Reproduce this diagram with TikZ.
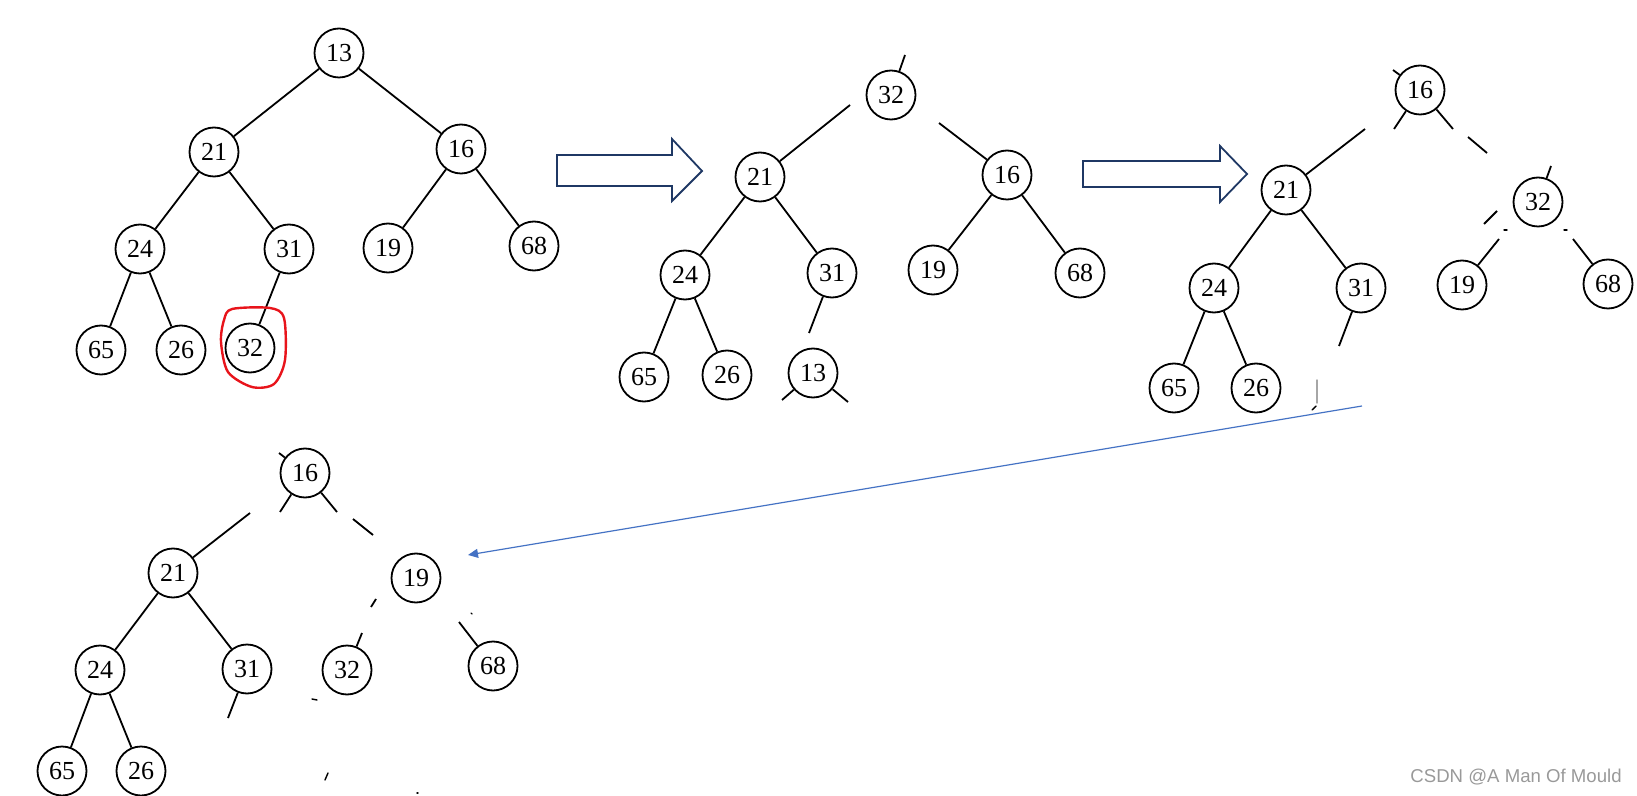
\documentclass[tikz,border=0pt]{standalone}
\usepackage{fontspec}
\setmainfont{Liberation Serif}
\newfontfamily\markfont{Liberation Sans}
\usetikzlibrary{arrows.meta}

\definecolor{navy}{HTML}{1F3864}
\definecolor{linkblue}{HTML}{4472C4}
\definecolor{penred}{HTML}{E8141B}

\begin{document}
\begin{tikzpicture}[x=0.5pt,y=-0.5pt,
  hnode/.style={circle,draw,line width=0.9pt,minimum size=24.5pt,inner sep=0pt,
    font=\fontsize{13}{13}\selectfont},
  link/.style={line width=0.9pt},
  speck/.style={line width=0.7pt,line cap=round},
  bigarrow/.style={draw=navy,line width=0.9pt,fill=white,line join=miter}]
\useasboundingbox (0,0) rectangle (1637,796);

% heap before
\node[hnode] (a13) at (339,53) {13};
\node[hnode] (a21) at (214,152) {21};
\node[hnode] (a16) at (461,149) {16};
\node[hnode] (a24) at (140,249) {24};
\node[hnode] (a31) at (289,249) {31};
\node[hnode] (a19) at (388,248) {19};
\node[hnode] (a68) at (534,246) {68};
\node[hnode] (a65) at (101,350) {65};
\node[hnode] (a26) at (181,350) {26};
\node[hnode] (a32) at (250,348) {32};
\foreach \p/\c in {a13/a21,a13/a16,a21/a24,a21/a31,a16/a19,a16/a68,a24/a65,a24/a26,a31/a32}
  \draw[link] (\p) -- (\c);
\draw[penred,line width=1.2pt] plot[smooth cycle] coordinates
  {(232,309) (270,308) (284,318) (285,360) (274,384) (252,387) (228,372) (221,342) (224,320)};

\draw[bigarrow] (557,155) -- (672,155) -- (672,139) -- (702,171) -- (672,201) -- (672,186) -- (557,186) -- cycle;

% 32 moved to the root
\node[hnode] (b32) at (891,95) {32};
\node[hnode] (b21) at (760,177) {21};
\node[hnode] (b16) at (1007,175) {16};
\node[hnode] (b24) at (685,275) {24};
\node[hnode] (b31) at (832,273) {31};
\node[hnode] (b19) at (933,270) {19};
\node[hnode] (b68) at (1080,273) {68};
\node[hnode] (b65) at (644,377) {65};
\node[hnode] (b26) at (727,375) {26};
\node[hnode] (b13) at (813,373) {13};
\foreach \p/\c in {b21/b24,b21/b31,b24/b65,b24/b26,b16/b19,b16/b68}
  \draw[link] (\p) -- (\c);
\coordinate (b32up) at (905,55);
\coordinate (b21up) at (850,105);
\coordinate (b16up) at (939,123);
\coordinate (b31dn) at (809,333);
\coordinate (b13l) at (782,400);
\coordinate (b13r) at (848,402);
\draw[link] (b32) -- (b32up);
\draw[link] (b21) -- (b21up);
\draw[link] (b16up) -- (b16);
\draw[link] (b31) -- (b31dn);
\draw[link] (b13) -- (b13l);
\draw[link] (b13) -- (b13r);

\draw[bigarrow] (1083,161) -- (1220,161) -- (1220,146) -- (1247,174) -- (1220,202) -- (1220,187) -- (1083,187) -- cycle;

% 32 sifted down once
\node[hnode] (c16) at (1420,90) {16};
\node[hnode] (c21) at (1286,190) {21};
\node[hnode] (c32) at (1538,202) {32};
\node[hnode] (c24) at (1214,288) {24};
\node[hnode] (c31) at (1361,288) {31};
\node[hnode] (c19) at (1462,285) {19};
\node[hnode] (c68) at (1608,284) {68};
\node[hnode] (c65) at (1174,388) {65};
\node[hnode] (c26) at (1256,388) {26};
\foreach \p/\c in {c21/c24,c21/c31,c24/c65,c24/c26}
  \draw[link] (\p) -- (\c);
\coordinate (c16up) at (1393,70);
\coordinate (c16l) at (1394,129);
\coordinate (c21up) at (1365,129);
\coordinate (c16r) at (1453,129);
\coordinate (c32up) at (1551,166);
\coordinate (c19up) at (1499,239);
\coordinate (c68up) at (1573,239);
\coordinate (c31dn) at (1339,346);
\draw[link] (c16) -- (c16up);
\draw[link] (c16) -- (c16l);
\draw[link] (c21) -- (c21up);
\draw[link] (c16) -- (c16r);
\draw[link] (1468,137) -- (1487,153);
\draw[link] (c32) -- (c32up);
\draw[link] (1497,211) -- (1484,224);
\draw[speck] (1504,230) -- (1507,230);
\draw[speck] (1564,230) -- (1567,230);
\draw[link] (c19up) -- (c19);
\draw[link] (c68up) -- (c68);
\draw[link] (c31) -- (c31dn);
\draw[speck,black!35] (1317,380) -- (1317,403);
\draw[speck] (1312,410) -- (1316,406);

% 32 sifted down twice
\node[hnode] (d16) at (305,473) {16};
\node[hnode] (d21) at (173,573) {21};
\node[hnode] (d19) at (416,578) {19};
\node[hnode] (d24) at (100,670) {24};
\node[hnode] (d31) at (247,669) {31};
\node[hnode] (d32) at (347,670) {32};
\node[hnode] (d68) at (493,666) {68};
\node[hnode] (d65) at (62,771) {65};
\node[hnode] (d26) at (141,771) {26};
\foreach \p/\c in {d21/d24,d21/d31,d24/d65,d24/d26}
  \draw[link] (\p) -- (\c);
\coordinate (d16up) at (279,453);
\coordinate (d16l) at (280,512);
\coordinate (d21up) at (250,513);
\coordinate (d16r) at (337,512);
\coordinate (d32up) at (362,633);
\coordinate (d68up) at (459,622);
\coordinate (d31dn) at (228,718);
\draw[link] (d16) -- (d16up);
\draw[link] (d16) -- (d16l);
\draw[link] (d21) -- (d21up);
\draw[link] (d16) -- (d16r);
\draw[link] (353,519) -- (373,535);
\draw[link] (376,599) -- (371,607);
\draw[link] (d32) -- (d32up);
\draw[link] (d68up) -- (d68);
\draw[link] (d31) -- (d31dn);
\draw[speck] (471,613) -- (472,614);
\draw[speck] (312,699) -- (317,700);
\draw[speck] (325,780) -- (328,773);
\draw[speck] (417,793) -- (418,793);

\coordinate (jumpfrom) at (1362,406);
\coordinate (jumpto) at (468,555);
\draw[linkblue,line width=0.6pt,-{Triangle[length=5pt,width=4.5pt]}] (jumpfrom) -- (jumpto);

\node[font=\markfont\fontsize{9.3}{10}\selectfont,text=black!40,anchor=east,inner sep=0pt] (credit) at (1622,777) {CSDN @A Man Of Mould};
\end{tikzpicture}
\end{document}
